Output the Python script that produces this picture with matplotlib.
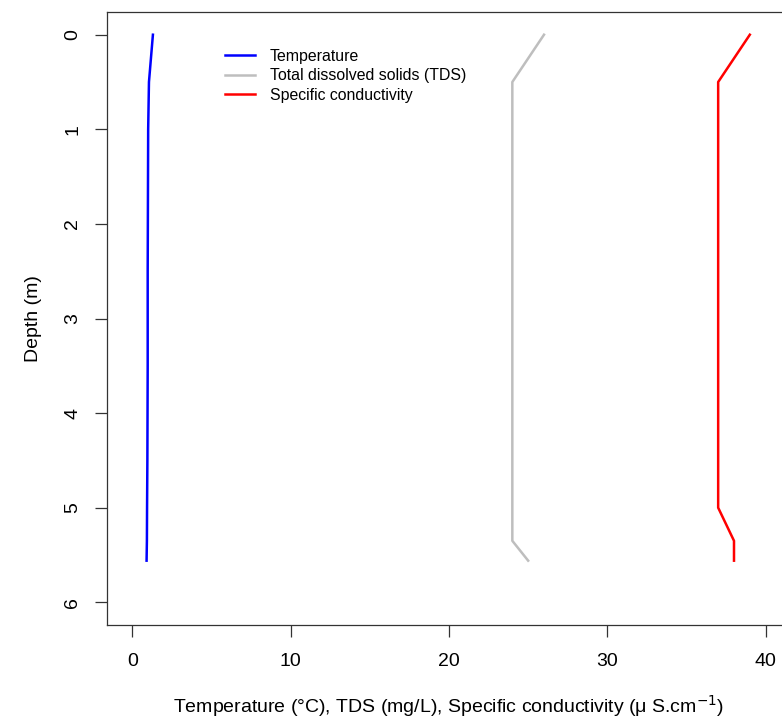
import matplotlib
matplotlib.use("Agg")
from matplotlib import pyplot as plt

depth = [0, 0.5, 1, 1.5, 2, 2.5, 3, 3.5, 4, 4.5, 5, 5.35, 5.56]
temperature = [1.3, 1.05, 1.0, 0.99, 0.98, 0.97, 0.97, 0.97, 0.96, 0.95, 0.93, 0.92, 0.9]
tds = [26, 24, 24, 24, 24, 24, 24, 24, 24, 24, 24, 24, 25]
conductivity = [39, 37, 37, 37, 37, 37, 37, 37, 37, 37, 37, 38, 38]

x_ticks = [0, 10, 20, 30, 40]
y_ticks = [0, 1, 2, 3, 4, 5, 6]

plt.rcParams['font.family'] = ['Liberation Sans', 'DejaVu Sans']

fig = plt.figure(figsize=(7.82, 7.18), dpi=100)
ax = fig.add_axes([107 / 782, 1 - 625 / 718, 684 / 782, 613 / 718])

ax.plot(temperature, depth, color='#0000ff', lw=1.8, label='Temperature')
ax.plot(tds, depth, color='#bebebe', lw=1.8, label='Total dissolved solids (TDS)')
ax.plot(conductivity, depth, color='#ff0000', lw=1.8, label='Specific conductivity')

ax.set_xlim(-1.6, 41.6)
ax.set_ylim(6.24, -0.24)
ax.set_xticks(x_ticks)
ax.set_yticks(y_ticks)
ax.set_yticklabels([str(t) for t in y_ticks], rotation=90, va='center')
ax.tick_params(direction='out', length=8.5, width=0.9, labelsize=14, color='#333333')
ax.tick_params(axis='x', pad=12)
ax.tick_params(axis='y', pad=10)
for s in ax.spines.values():
    s.set_linewidth(0.9)
    s.set_color('#333333')

ax.set_xlabel('Temperature (°C), TDS (mg/L), Specific conductivity (\u03bc S.cm$^{-1}$)',
              fontsize=14, labelpad=16)
ax.set_ylabel('Depth (m)', fontsize=14, labelpad=16)

ax.legend(loc='upper left', bbox_to_anchor=(0.1725, 0.940), frameon=False,
          fontsize=11.4, handlelength=1.9, labelspacing=0.28, handletextpad=0.95,
          borderpad=0, borderaxespad=0)

fig.savefig('out.png', dpi=100)
